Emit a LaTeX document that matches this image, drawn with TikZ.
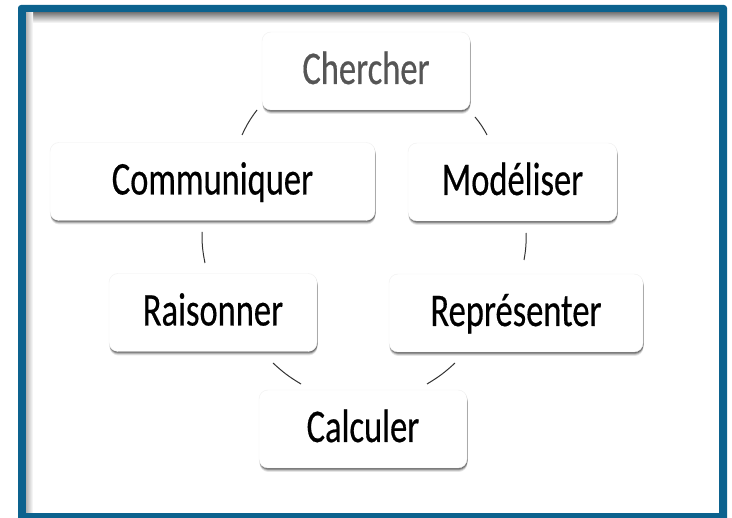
\documentclass[tikz,border=0pt]{standalone}
\usepackage{fontspec}
\setmainfont{Carlito}
\newfontfamily\boxfont{Carlito}[FakeBold=0.5]
\usepackage{graphicx}
\usetikzlibrary{shadows}
\definecolor{framecol}{RGB}{12,98,142}
\definecolor{greytext}{RGB}{85,85,85}
\tikzset{
  box/.style={rounded corners=9pt, fill=white, draw=black!6, line width=0.4pt,
    minimum height=78pt, inner sep=0pt, text height=26pt, text depth=0pt,
    font=\boxfont\fontsize{34.5}{40}\selectfont,
    general shadow={shadow xshift=0.5pt, shadow yshift=-4pt, opacity=0.10, fill=black},
    general shadow={shadow xshift=0.5pt, shadow yshift=-3pt, opacity=0.15, fill=black},
    general shadow={shadow xshift=0.5pt, shadow yshift=-2pt, opacity=0.25, fill=black},
    general shadow={shadow xshift=0.5pt, shadow yshift=-1pt, opacity=0.25, fill=black}},
  link/.style={line width=1pt, draw=black!80},
}
\newcommand{\tallword}[1]{\scalebox{1}[1.36]{#1}}
\begin{document}
\begin{tikzpicture}[x=1pt,y=-1pt]
\useasboundingbox (0,0) rectangle (732,518);
\fill[white] (0,0) rectangle (732,518);
\fill[framecol, rounded corners=3pt] (18,5) rectangle (727,530);
\fill[white] (26,13) rectangle (719,513);
\shade[top color=black!50, bottom color=white] (26,13) rectangle (719,23);
\shade[left color=black!30, right color=white] (26,13) rectangle (33,513);

\node[box, minimum width=208pt, text=greytext] (cher) at (366,71) {\tallword{Chercher}};
\node[box, minimum width=325pt] (comm) at (212.5,181.5) {\tallword{Communiquer}};
\node[box, minimum width=209pt] (mod) at (512.5,182) {\tallword{Modéliser}};
\node[box, minimum width=208pt] (rais) at (213,312.5) {\tallword{Raisonner}};
\node[box, minimum width=254pt] (rep) at (516,313) {\tallword{Représenter}};
\node[box, minimum width=208pt] (calc) at (363,429) {\tallword{Calculer}};

\coordinate (c1a) at (257,110);
\coordinate (c1b) at (242,135);
\coordinate (c2a) at (202,232);
\coordinate (c2b) at (205,263);
\coordinate (c3a) at (273,363);
\coordinate (c3b) at (301,384);
\coordinate (c4a) at (427,384);
\coordinate (c4b) at (455,363);
\coordinate (c5a) at (524,260);
\coordinate (c5b) at (526,233);
\coordinate (c6a) at (487,135);
\coordinate (c6b) at (475,117);

\draw[link] (c1a) to[bend right=6] (c1b);
\draw[link] (c2a) to[bend right=6] (c2b);
\draw[link] (c3a) to[bend right=6] (c3b);
\draw[link] (c4a) to[bend right=6] (c4b);
\draw[link] (c5a) to[bend right=6] (c5b);
\draw[link] (c6a) to[bend right=6] (c6b);
\end{tikzpicture}
\end{document}
